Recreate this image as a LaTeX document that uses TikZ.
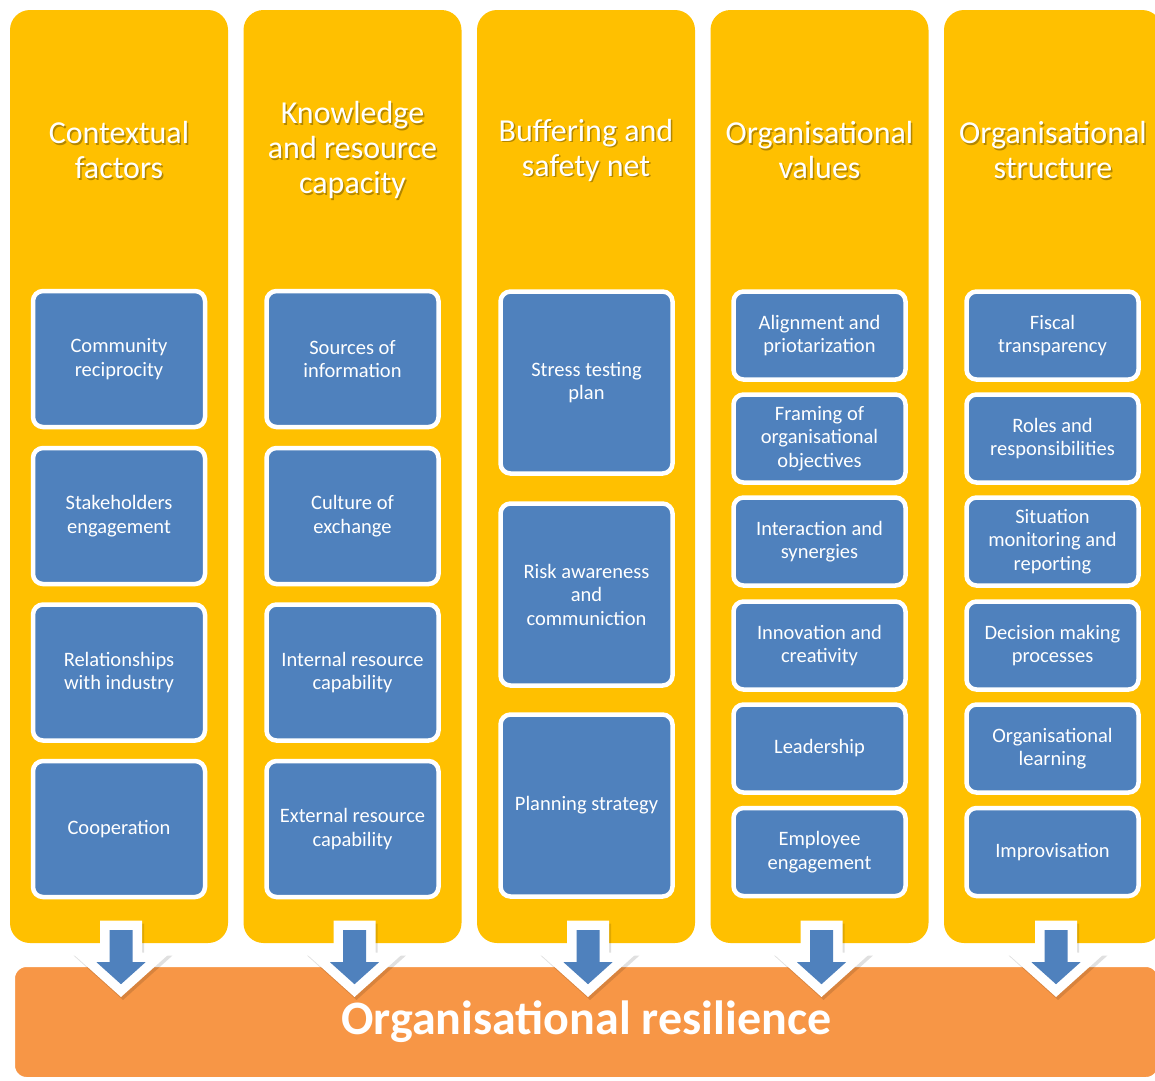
\documentclass[tikz,border=0pt]{standalone}
\usepackage{fontspec}
\setmainfont{Carlito}
\usetikzlibrary{calc}
\definecolor{colyellow}{HTML}{FFC000}
\definecolor{boxblue}{HTML}{4F81BD}
\definecolor{barorange}{HTML}{F79646}
\tikzset{
  column/.style={fill=colyellow, rounded corners=20pt, minimum width=218pt, minimum height=933pt, inner sep=0pt},
  coltitle/.style={text=white, font=\fontsize{32}{35}\selectfont, align=center},
  titleshadow/.style={text=black, text opacity=0.3, font=\fontsize{32}{35}\selectfont, align=center},
  item/.style={fill=boxblue, draw=white, line width=4.5pt, rounded corners=10pt, text=white,
    font=\fontsize{20.5}{23.5}\selectfont, align=center, inner sep=0pt, minimum width=172pt},
  itemA/.style={item, minimum height=136pt},
  itemB/.style={item, minimum height=182pt},
  itemC/.style={item, minimum height=88pt},
  arrowfill/.style={fill=boxblue},
  arrowrim/.style={draw=white, fill=white, line width=19pt, line join=miter, miter limit=4},
  arrowshadow/.style={fill=black, draw=black, line width=19pt, line join=miter, miter limit=4, opacity=0.12},
  bar/.style={fill=barorange, draw=white, line width=7pt, rounded corners=15pt, text=white,
    font=\fontsize{48}{52}\selectfont\bfseries, minimum width=1149.5pt, minimum height=117pt, inner sep=0pt},
}
\newcommand{\downarrowshape}[2]{%
  \path[#2] ($(#1)+(-11.5,0)$) -- ++(23,0) -- ++(0,32) -- ++(13,0) -- ++(-24.5,22) -- ++(-24.5,-22) -- ++(13,0) -- cycle;}
\begin{document}
\begin{tikzpicture}[x=1pt,y=-1pt]
\path[use as bounding box] (0,0) rectangle (1155,1080);
\clip (0,0) rectangle (1155,1080);
\fill[white] (0,0) rectangle (1155,1080);

% columns
\node[column] (c1) at (119,476.5) {};
\node[column] (c2) at (352.5,476.5) {};
\node[column] (c3) at (586,476.5) {};
\node[column] (c4) at (819.5,476.5) {};
\node[column] (c5) at (1053,476.5) {};

% titles
\node[titleshadow] at (120.5,151.5) {Contextual\\factors};
\node[coltitle] (t1) at (119,150) {Contextual\\factors};
\node[titleshadow] at (354,151.5) {Knowledge\\and resource\\capacity};
\node[coltitle] (t2) at (352.5,150) {Knowledge\\and resource\\capacity};
\node[titleshadow] at (587.5,151.5) {Buffering and\\safety net};
\node[coltitle] (t3) at (586,150) {Buffering and\\safety net};
\node[titleshadow] at (821,151.5) {Organisational\\values};
\node[coltitle] (t4) at (819.5,150) {Organisational\\values};
\node[titleshadow] at (1054.5,151.5) {Organisational\\structure};
\node[coltitle] (t5) at (1053,150) {Organisational\\structure};

% column 1
\node[itemA] (a1) at (119,359) {Community\\reciprocity};
\node[itemA] (a2) at (119,516) {Stakeholders\\engagement};
\node[itemA] (a3) at (119,672.5) {Relationships\\with industry};
\node[itemA] (a4) at (119,829) {Cooperation};

% column 2
\node[itemA] (b1) at (352.5,359) {Sources of\\information};
\node[itemA] (b2) at (352.5,516) {Culture of\\exchange};
\node[itemA] (b3) at (352.5,672.5) {Internal resource\\capability};
\node[itemA] (b4) at (352.5,829) {External resource\\capability};

% column 3
\node[itemB] (d1) at (586.5,382.5) {Stress testing\\plan};
\node[itemB] (d2) at (586.5,594.5) {Risk awareness\\and\\communiction};
\node[itemB] (d3) at (586.5,805.5) {Planning strategy};

% column 4
\node[itemC] (e1) at (819.5,335.5) {Alignment and\\priotarization};
\node[itemC] (e2) at (819.5,438.5) {Framing of\\organisational\\objectives};
\node[itemC] (e3) at (819.5,541.5) {Interaction and\\synergies};
\node[itemC] (e4) at (819.5,645.5) {Innovation and\\creativity};
\node[itemC] (e5) at (819.5,748.5) {Leadership};
\node[itemC] (e6) at (819.5,852) {Employee\\engagement};

% column 5
\node[itemC] (f1) at (1052.5,335.5) {Fiscal\\transparency};
\node[itemC] (f2) at (1052.5,438.5) {Roles and\\responsibilities};
\node[itemC] (f3) at (1052.5,541.5) {Situation\\monitoring and\\reporting};
\node[itemC] (f4) at (1052.5,645.5) {Decision making\\processes};
\node[itemC] (f5) at (1052.5,748.5) {Organisational\\learning};
\node[itemC] (f6) at (1052.5,852) {Improvisation};

% bar
\node[bar] (res) at (586.25,1022) {Organisational resilience};

% arrows
\coordinate (p1) at ($(c1.south)+(2,-13)$);
\coordinate (p2) at ($(c2.south)+(2,-13)$);
\coordinate (p3) at ($(c3.south)+(2,-13)$);
\coordinate (p4) at ($(c4.south)+(2,-13)$);
\coordinate (p5) at ($(c5.south)+(3,-13)$);
\foreach \p in {p1,p2,p3,p4,p5}{
  \downarrowshape{$(\p)+(2,3)$}{arrowshadow}
  \downarrowshape{\p}{arrowrim}
  \downarrowshape{\p}{arrowfill}
}
\end{tikzpicture}
\end{document}
